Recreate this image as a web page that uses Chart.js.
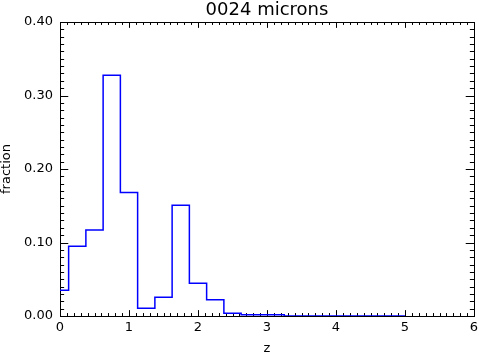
<!DOCTYPE html>
<html>
<head>
<meta charset="utf-8">
<script src="https://cdn.jsdelivr.net/npm/chart.js@4"></script>
<style>
  html, body { margin: 0; padding: 0; background: #fff; }
  #wrap { width: 479px; height: 355px; }
</style>
</head>
<body>
<div id="wrap"><canvas id="myChart"></canvas></div>
<script>
// histogram bins: left edge of each step and its fraction
const binStart = [0, 0.125, 0.375, 0.625, 0.875, 1.125, 1.375, 1.625, 1.875, 2.125, 2.375, 2.625, 3.25, 5.0];
const fraction = [0.035, 0.095, 0.117, 0.3275, 0.168, 0.0104, 0.0254, 0.1506, 0.0444, 0.0220, 0.0037, 0.0018, 0, 0];
const xTicks = [0, 1, 2, 3, 4, 5, 6];
const yTicks = [0.0, 0.1, 0.2, 0.3, 0.4];
const chartTitle = '0024 microns';

const FONT = "'DejaVu Sans', sans-serif";

// IDL style box with inward ticks on all four sides
const frameTicks = {
    id: 'frameTicks',
    beforeDatasetsDraw(chart) {
        const {ctx, chartArea: a, scales: {x, y}} = chart;
        ctx.save();
        ctx.strokeStyle = '#000';
        ctx.lineWidth = 1;
        ctx.strokeRect(Math.round(a.left) + 0.5, Math.round(a.top) + 0.5,
            Math.round(a.right - a.left), Math.round(a.bottom - a.top));
        const h = a.bottom - a.top, w = a.right - a.left;
        ctx.beginPath();
        // x ticks every 0.1
        for (let i = 0; i <= 60; i++) {
            const px = Math.round(x.getPixelForValue(i / 10)) + 0.5;
            const len = (i % 10 === 0) ? h * 0.02 : h * 0.01;
            ctx.moveTo(px, a.bottom); ctx.lineTo(px, a.bottom - len);
            ctx.moveTo(px, a.top); ctx.lineTo(px, a.top + len);
        }
        // y ticks every 0.01
        for (let i = 0; i <= 40; i++) {
            const py = Math.round(y.getPixelForValue(i / 100)) + 0.5;
            const len = (i % 10 === 0) ? w * 0.02 : w * 0.01;
            ctx.moveTo(a.left, py); ctx.lineTo(a.left + len, py);
            ctx.moveTo(a.right, py); ctx.lineTo(a.right - len, py);
        }
        ctx.stroke();
        // title centred over the plot
        ctx.fillStyle = '#000';
        ctx.font = '18px ' + FONT;
        ctx.textAlign = 'center';
        ctx.textBaseline = 'middle';
        ctx.fillText(chartTitle, (a.left + a.right) / 2, 10);
        ctx.restore();
    }
};

const ctx = document.getElementById('myChart').getContext('2d');
const chart = new Chart(ctx, {
    type: 'line',
    data: {
        datasets: [{
            label: chartTitle,
            data: binStart.map((b, i) => ({x: b, y: fraction[i]})),
            stepped: 'before',
            borderColor: '#0000ff',
            borderWidth: 1.5,
            pointRadius: 0,
            fill: false
        }]
    },
    options: {
        responsive: true,
        maintainAspectRatio: false,
        animation: false,
        layout: { padding: { top: 22, right: 5, left: 0, bottom: 0 } },
        plugins: {
            legend: { display: false },
            tooltip: { enabled: false }
        },
        scales: {
            x: {
                type: 'linear',
                min: 0, max: 6,
                afterBuildTicks: s => { s.ticks = xTicks.map(v => ({value: v})); },
                afterFit: s => { s.height = 39; s.paddingLeft = 0; s.paddingRight = 0; },
                grid: { display: false, drawTicks: false },
                border: { display: false },
                ticks: { color: '#000', padding: 4, maxRotation: 0, font: { family: FONT, size: 13 },
                    callback: v => String(v) },
                title: { display: true, text: 'z', color: '#000', padding: 0,
                    font: { family: FONT, size: 13, lineHeight: 1 } }
            },
            y: {
                min: 0, max: 0.4,
                afterBuildTicks: s => { s.ticks = yTicks.map(v => ({value: v})); },
                afterFit: s => { s.width = 60; s.paddingTop = 0; s.paddingBottom = 0; },
                grid: { display: false, drawTicks: false },
                border: { display: false },
                ticks: { color: '#000', padding: 7, font: { family: FONT, size: 13 },
                    callback: v => v.toFixed(2) },
                title: { display: true, text: 'fraction', color: '#000', padding: 0,
                    font: { family: FONT, size: 13, lineHeight: 1 } }
            }
        }
    },
    plugins: [frameTicks]
});
</script>
</body>
</html>
